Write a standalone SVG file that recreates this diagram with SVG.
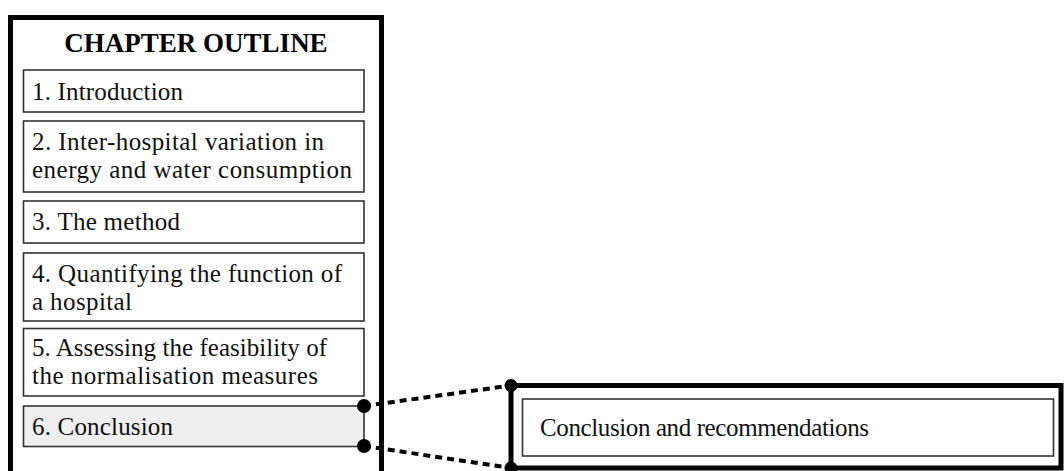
<svg xmlns="http://www.w3.org/2000/svg" width="1064" height="471" viewBox="0 0 1064 471">
  <style>
    .frame { fill: none; stroke: #000; stroke-width: 5; }
    .item { fill: #fff; stroke: #333; stroke-width: 1.6; }
    .item.active { fill: #efefef; }
    .label { font-family: "Liberation Serif", "Times New Roman", serif; font-size: 25px; fill: #111; }
    .title { font-family: "Liberation Serif", "Times New Roman", serif; font-size: 27px; font-weight: bold; fill: #000; }
    .link { fill: none; stroke: #000; stroke-width: 4; stroke-dasharray: 7 5; }
    .dot { fill: #000; }
  </style>
  <rect width="1064" height="471" fill="#fff"/>

  <!-- dashed zoom connectors (under the frames) -->
  <g id="connectors">
    <line class="link" x1="364" y1="406" x2="511" y2="385.5"/>
    <line class="link" x1="364" y1="446" x2="511" y2="468"/>
  </g>

  <!-- chapter outline panel -->
  <g id="outline">
    <rect class="frame" x="10.5" y="17.5" width="371" height="470"/>
    <text class="title" x="196" y="52" text-anchor="middle">CHAPTER OUTLINE</text>
  </g>

  <g id="item1">
    <rect class="item" x="23.5" y="70" width="340.5" height="42"/>
    <text class="label" x="32" y="99.5" textLength="151" lengthAdjust="spacing">1. Introduction</text>
  </g>
  <g id="item2">
    <rect class="item" x="23.5" y="121" width="340.5" height="71"/>
    <text class="label" x="32" y="150" textLength="292" lengthAdjust="spacing">2. Inter-hospital variation in</text>
    <text class="label" x="32" y="178" textLength="320" lengthAdjust="spacing">energy and water consumption</text>
  </g>
  <g id="item3">
    <rect class="item" x="23.5" y="201" width="340.5" height="42"/>
    <text class="label" x="32" y="230" textLength="148" lengthAdjust="spacing">3. The method</text>
  </g>
  <g id="item4">
    <rect class="item" x="23.5" y="253" width="340.5" height="68"/>
    <text class="label" x="32" y="282" textLength="310" lengthAdjust="spacing">4. Quantifying the function of</text>
    <text class="label" x="32" y="310" textLength="100" lengthAdjust="spacing">a hospital</text>
  </g>
  <g id="item5">
    <rect class="item" x="23.5" y="328.5" width="340.5" height="67.5"/>
    <text class="label" x="32" y="355.5" textLength="295" lengthAdjust="spacing">5. Assessing the feasibility of</text>
    <text class="label" x="32" y="383.5" textLength="286" lengthAdjust="spacing">the normalisation measures</text>
  </g>
  <g id="item6">
    <rect class="item active" x="23.5" y="406" width="340.5" height="40.5"/>
    <text class="label" x="32" y="435" textLength="141" lengthAdjust="spacing">6. Conclusion</text>
  </g>

  <!-- expanded detail panel -->
  <g id="detail">
    <rect class="frame" x="511" y="385.5" width="550" height="82.5"/>
    <rect class="item" x="522.5" y="399" width="531" height="57"/>
    <text class="label" x="540" y="436" textLength="329" lengthAdjust="spacing">Conclusion and recommendations</text>
  </g>

  <!-- anchor dots -->
  <g id="anchors">
    <circle class="dot" cx="364" cy="406" r="7"/>
    <circle class="dot" cx="364" cy="446" r="7"/>
    <circle class="dot" cx="511" cy="385.5" r="6.5"/>
    <circle class="dot" cx="511" cy="468" r="6.5"/>
  </g>
</svg>
